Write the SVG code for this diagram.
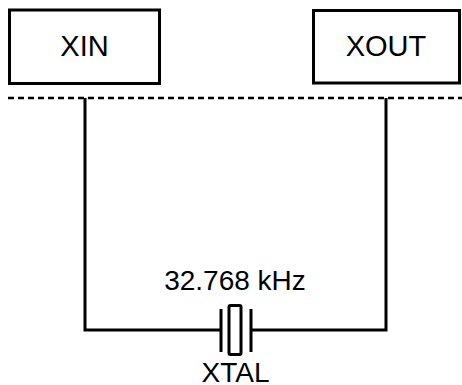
<svg xmlns="http://www.w3.org/2000/svg" width="462" height="385" viewBox="0 0 462 385">
<style>
.box{fill:#fff;stroke:#000;stroke-width:3}
.w{fill:none;stroke:#000;stroke-width:3}
.t{font-family:"Liberation Sans",Arial,sans-serif;font-size:28px;fill:#000;text-anchor:middle}
.b{font-size:29px}
</style>
<rect width="462" height="385" fill="#fff"/>
<g id="xin"><rect class="box" x="9.5" y="10" width="150" height="73.5"/><text class="t b" x="84.5" y="56">XIN</text></g>
<g id="xout"><rect class="box" x="313.5" y="10.5" width="146" height="72.5"/><text class="t b" x="386" y="56">XOUT</text></g>
<g id="connectors">
<line x1="8" y1="98" x2="462" y2="98" stroke="#000" stroke-width="2.5" stroke-dasharray="6,4"/>
<polyline class="w" points="85,98 85,330 221,330"/>
<polyline class="w" points="386,98 386,330 251,330"/>
</g>
<g id="xtal">
<line class="w" x1="221" y1="309" x2="221" y2="352"/>
<line class="w" x1="251" y1="309" x2="251" y2="352"/>
<rect class="w" x="229" y="305.5" width="12" height="49" rx="1.5"/>
<text class="t" x="235" y="290">32.768 kHz</text>
<text class="t" x="235.5" y="382">XTAL</text>
</g>
</svg>
